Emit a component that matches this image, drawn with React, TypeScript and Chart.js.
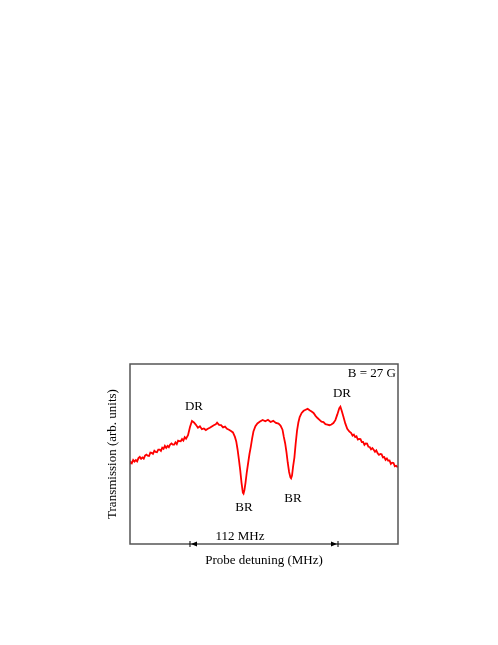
import React, { useEffect, useRef } from "react";
import { Chart, registerables } from "chart.js";

Chart.register(...registerables);

// Probe detuning (MHz) and transmission (arb. units, 0-100 scale)
const detuning = [
  -101.4, -101, -100, -99, -98, -97, -96, -95, -94, -93, -92, -91, -90, -89, -88, -87, -86, -85, -84, -83, -82, -81,
  -80, -79, -78, -77, -76, -75, -74, -73, -72, -71, -70, -69, -68, -67, -66, -65, -64, -63, -62, -61, -60, -59,
  -57.5, -56, -54.5, -53, -51.5, -50, -48.5, -47, -45.5, -44, -42.5, -41, -39.5, -38, -36.5, -35.5, -34, -32.5, -31,
  -29.5, -28, -26.5, -25, -23.5, -22, -21, -20, -19, -18, -17, -16, -15.5, -14.8, -14, -13, -12, -11, -10, -9, -8,
  -6.5, -5, -3, -1, 1, 3, 5, 7, 9, 11, 12.5, 14, 15, 16, 17, 18, 19, 20, 20.5, 21.2, 22, 23, 24, 25, 26, 27, 28.5, 30,
  31.5, 33, 34.5, 36, 37.5, 39, 40.5, 42, 43.5, 45, 46.5, 48, 49.5, 51, 52.5, 54, 55.5, 57, 57.8, 58.8, 60, 61.5, 63,
  64.5, 66, 67, 68, 69, 70, 71, 72, 73, 74, 75, 76, 77, 78, 79, 80, 81, 82, 83, 84, 85, 86, 87, 88, 89, 90, 91, 92,
  93, 94, 95, 96, 97, 98, 99, 100, 101.2,
];
const transmission = [
  44.8, 45.6, 44.9, 46.7, 45.8, 46.6, 45.9, 47.7, 48.4, 47.3, 48.1, 47.4, 49.1, 49.7, 49.1, 48.9, 50.8, 50.6, 50.1,
  51.8, 51.1, 51.0, 52.4, 52.4, 51.7, 53.5, 52.9, 54.5, 53.4, 54.5, 53.8, 55.3, 55.9, 55.2, 55.2, 56.5, 55.5, 57.4,
  57.2, 57.1, 58.3, 57.5, 59.3, 58.5,
  60.5, 65, 68.3, 67.5, 66.2, 64.6, 65.4, 63.8, 64.2, 63.3, 64.0, 64.6, 65.3, 66.0, 66.5, 67.4, 66.2,
  66.0, 64.8, 65.2, 64.0, 63.5, 62.8, 62.0, 59.5, 57, 52.5, 47, 41, 34, 28.5, 28, 30, 34, 40, 45, 50, 54, 58.5, 62.5,
  65.5, 67, 68, 68.9, 68.2, 69, 67.8, 68.4, 67.3, 66.9, 65.8, 63.5, 59.5, 56, 51, 45, 40, 37, 36.5, 38, 43, 48, 56, 63,
  67.5, 70.5, 72.8, 74, 74.6, 75.1, 74.3, 73.6, 72.8, 71.2, 70, 69, 68, 67.7, 66.6, 66.3, 66, 66.4, 67.2, 68.8, 72,
  75.5, 76.3, 74, 71, 67, 64, 62.5,
  61.6, 60.2, 60.8, 59.4, 59.8, 58.0, 58.4, 58.3, 56.6, 56.7, 55.1, 55.9, 55.8, 54.0, 53.9, 52.6, 53.3, 52.4, 51.2,
  52.0, 50.4, 49.5, 50.0, 49.8, 48.1, 48.3, 46.7, 47.5, 46.3, 46.4, 44.5, 45.2, 45.0, 43.2, 43.5, 42.6,
];

// Annotation labels and their anchor positions (data units)
const labelTexts = ["DR", "DR", "BR", "BR", "112 MHz"];
const labelX = [-53, 59, -15.1, 21.9, -18.2];
const labelY = [76.3, 83.5, 20.5, 25.5, 4.4];
const fieldLabel = "B = 27 G";
const spanStart = -56;
const spanEnd = 56;
const xTitle = "Probe detuning (MHz)";
const yTitle = "Transmission (arb. units)";

const FONT = '13px "Liberation Serif", "DejaVu Serif", serif';

const overlay = {
  id: "overlay",
  afterDraw(chart: any) {
    const { ctx, chartArea: a, scales } = chart;
    const xs = scales.x;
    const ys = scales.y;
    ctx.save();
    // frame
    ctx.strokeStyle = "#555";
    ctx.lineWidth = 1.5;
    ctx.strokeRect(a.left, a.top, a.right - a.left, a.bottom - a.top);
    ctx.fillStyle = "#000";
    ctx.font = FONT;
    ctx.textBaseline = "middle";
    ctx.textAlign = "center";
    labelTexts.forEach((t, i) => {
      ctx.fillText(t, xs.getPixelForValue(labelX[i]), ys.getPixelForValue(labelY[i]));
    });
    ctx.textAlign = "right";
    ctx.fillText(fieldLabel, a.right - 2, a.top + 10);
    // span marker
    const y0 = a.bottom;
    const x1 = xs.getPixelForValue(spanStart);
    const x2 = xs.getPixelForValue(spanEnd);
    ctx.strokeStyle = "#000";
    ctx.lineWidth = 1;
    ctx.beginPath();
    ctx.moveTo(x1, y0 - 3);
    ctx.lineTo(x1, y0 + 3);
    ctx.moveTo(x2, y0 - 3);
    ctx.lineTo(x2, y0 + 3);
    ctx.stroke();
    ctx.beginPath();
    ctx.moveTo(x1 + 1, y0);
    ctx.lineTo(x1 + 7, y0 - 2.5);
    ctx.lineTo(x1 + 7, y0 + 2.5);
    ctx.closePath();
    ctx.moveTo(x2 - 1, y0);
    ctx.lineTo(x2 - 7, y0 - 2.5);
    ctx.lineTo(x2 - 7, y0 + 2.5);
    ctx.closePath();
    ctx.fill();
    // axis titles
    ctx.textAlign = "center";
    ctx.fillText(xTitle, (a.left + a.right) / 2, a.bottom + 17);
    ctx.translate(a.left - 17, (a.top + a.bottom) / 2);
    ctx.rotate(-Math.PI / 2);
    ctx.fillText(yTitle, 0, 0);
    ctx.restore();
  },
};

export default function App() {
  const ref = useRef<HTMLCanvasElement>(null);
  useEffect(() => {
    if (!ref.current) return;
    const chart = new Chart(ref.current, {
      type: "line",
      data: {
        datasets: [
          {
            data: detuning.map((x, i) => ({ x, y: transmission[i] })),
            borderColor: "#ff0000",
            borderWidth: 1.8,
            pointRadius: 0,
            tension: 0,
            fill: false,
          },
        ],
      },
      options: {
        animation: false,
        responsive: false,
        maintainAspectRatio: false,
        layout: { padding: { left: 130, top: 364, right: 100, bottom: 101 } },
        plugins: { legend: { display: false }, tooltip: { enabled: false } },
        scales: {
          x: { type: "linear", min: -101.4, max: 101.4, display: false },
          y: { type: "linear", min: 0, max: 100, display: false },
        },
      },
      plugins: [overlay],
    });
    return () => chart.destroy();
  }, []);
  return (
    <div style={{ position: "absolute", left: 0, top: 0, width: 498, height: 645 }}>
      <canvas ref={ref} width={498} height={645} style={{ width: 498, height: 645 }} />
    </div>
  );
}
